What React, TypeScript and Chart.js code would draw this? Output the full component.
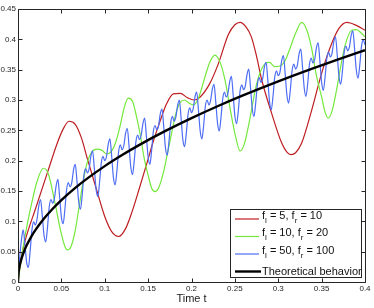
import React, { useEffect, useRef } from 'react';
import { Chart, registerables } from 'chart.js';

Chart.register(...registerables);

const FONT = '"Liberation Sans", Arial, Helvetica, sans-serif';

// Tick labels
const xTicks = [0, 0.05, 0.1, 0.15, 0.2, 0.25, 0.3, 0.35, 0.4];
const yTicks = [0, 0.05, 0.1, 0.15, 0.2, 0.25, 0.3, 0.35, 0.4, 0.45];
const xTitle = 'Time t';

// Legend labels ("_x" = subscript)
const legendLabels = ['f_l = 5, f_r = 10', 'f_l = 10, f_r = 20', 'f_l = 50, f_r = 100', 'Theoretical behavior'];
const seriesColors = ['#BE1E22', '#74E83C', '#4D6DF5', '#000000'];
const seriesWidths = [1.2, 1.2, 1.2, 2.4];

// Red series: f_l = 5, f_r = 10
const redT = [0, 0.003, 0.008, 0.02, 0.035, 0.045, 0.052, 0.0588, 0.066, 0.073, 0.08, 0.09, 0.1, 0.108, 0.116, 0.124, 0.132, 0.14, 0.148, 0.156, 0.164, 0.171, 0.179, 0.187, 0.195, 0.203, 0.21, 0.221, 0.231, 0.2425, 0.25, 0.256, 0.263, 0.269, 0.275, 0.281, 0.2924, 0.304, 0.31, 0.3147, 0.32, 0.327, 0.3385, 0.35, 0.3616, 0.37, 0.379, 0.39, 0.4];
const redY = [0, 0.035, 0.067, 0.12, 0.185, 0.228, 0.252, 0.265, 0.26, 0.238, 0.203, 0.155, 0.108, 0.083, 0.075, 0.088, 0.118, 0.155, 0.193, 0.232, 0.266, 0.293, 0.31, 0.311, 0.304, 0.3, 0.305, 0.327, 0.36, 0.408, 0.424, 0.428, 0.42, 0.404, 0.372, 0.333, 0.278, 0.229, 0.214, 0.21, 0.213, 0.229, 0.283, 0.344, 0.393, 0.418, 0.428, 0.423, 0.415];

// Green series: f_l = 10, f_r = 20
const greenT = [0, 0.003, 0.008, 0.0158, 0.022, 0.0292, 0.035, 0.0427, 0.049, 0.0545, 0.057, 0.061, 0.066, 0.07, 0.075, 0.08, 0.085, 0.091, 0.097, 0.102, 0.108, 0.113, 0.118, 0.122, 0.127, 0.132, 0.137, 0.1406, 0.146, 0.15, 0.154, 0.158, 0.162, 0.1675, 0.172, 0.177, 0.182, 0.187, 0.192, 0.197, 0.202, 0.208, 0.2155, 0.221, 0.227, 0.233, 0.2386, 0.244, 0.25, 0.256, 0.261, 0.2655, 0.27, 0.274, 0.279, 0.285, 0.29, 0.296, 0.302, 0.308, 0.3135, 0.32, 0.327, 0.333, 0.3385, 0.344, 0.35, 0.354, 0.3577, 0.362, 0.367, 0.372, 0.377, 0.3847, 0.39, 0.396, 0.4];
const greenY = [0, 0.03, 0.075, 0.13, 0.166, 0.1875, 0.178, 0.13, 0.085, 0.057, 0.053, 0.058, 0.085, 0.12, 0.165, 0.198, 0.214, 0.219, 0.217, 0.211, 0.216, 0.232, 0.259, 0.285, 0.303, 0.298, 0.27, 0.245, 0.2, 0.176, 0.155, 0.149, 0.155, 0.18, 0.21, 0.245, 0.278, 0.296, 0.3, 0.295, 0.292, 0.303, 0.338, 0.362, 0.374, 0.362, 0.333, 0.29, 0.245, 0.216, 0.228, 0.256, 0.29, 0.32, 0.345, 0.36, 0.362, 0.355, 0.356, 0.365, 0.385, 0.41, 0.428, 0.415, 0.385, 0.34, 0.305, 0.28, 0.27, 0.282, 0.315, 0.355, 0.39, 0.415, 0.416, 0.41, 0.404];

// Blue series: f_l = 50, f_r = 100 (sampled every 0.002 in t)
const blueStep = 0.002;
const blueY = [
  0, 0.041, 0.070, 0.086, 0.062, 0.032, 0.024, 0.051, 0.085, 0.099,
  0.094, 0.104, 0.126, 0.136, 0.109, 0.077, 0.066, 0.090, 0.124, 0.136,
  0.130, 0.138, 0.159, 0.169, 0.140, 0.107, 0.096, 0.119, 0.152, 0.164,
  0.157, 0.164, 0.185, 0.194, 0.166, 0.132, 0.120, 0.143, 0.176, 0.187,
  0.180, 0.187, 0.207, 0.216, 0.187, 0.153, 0.141, 0.164, 0.196, 0.207,
  0.200, 0.207, 0.227, 0.236, 0.207, 0.172, 0.160, 0.183, 0.215, 0.226,
  0.218, 0.225, 0.245, 0.253, 0.224, 0.190, 0.177, 0.200, 0.232, 0.242,
  0.235, 0.242, 0.261, 0.270, 0.240, 0.206, 0.194, 0.216, 0.248, 0.258,
  0.251, 0.257, 0.277, 0.285, 0.256, 0.221, 0.209, 0.231, 0.262, 0.273,
  0.265, 0.272, 0.291, 0.300, 0.270, 0.235, 0.223, 0.245, 0.276, 0.287,
  0.279, 0.286, 0.305, 0.313, 0.284, 0.249, 0.236, 0.258, 0.290, 0.300,
  0.292, 0.299, 0.318, 0.326, 0.296, 0.262, 0.249, 0.271, 0.302, 0.313,
  0.305, 0.311, 0.330, 0.339, 0.309, 0.274, 0.261, 0.283, 0.315, 0.325,
  0.317, 0.323, 0.342, 0.351, 0.321, 0.286, 0.273, 0.295, 0.326, 0.337,
  0.329, 0.335, 0.354, 0.362, 0.332, 0.297, 0.284, 0.307, 0.338, 0.348,
  0.340, 0.346, 0.365, 0.373, 0.343, 0.308, 0.295, 0.318, 0.349, 0.359,
  0.351, 0.357, 0.376, 0.384, 0.354, 0.319, 0.306, 0.328, 0.359, 0.369,
  0.361, 0.367, 0.386, 0.394, 0.364, 0.329, 0.316, 0.338, 0.369, 0.379,
  0.371, 0.377, 0.396, 0.404, 0.374, 0.339, 0.326, 0.348, 0.379, 0.389,
  0.381, 0.387, 0.406, 0.414, 0.384, 0.349, 0.336, 0.358, 0.389, 0.399,
  0.391,
];

// Black series: theoretical behavior
const blackT = [0, 0.0005, 0.001, 0.002, 0.004, 0.007, 0.01, 0.015, 0.02, 0.03, 0.04, 0.05, 0.065, 0.08, 0.1, 0.12, 0.14, 0.17, 0.2, 0.23, 0.26, 0.3, 0.34, 0.37, 0.4];
const blackY = [0, 0.0135, 0.0191, 0.027, 0.0382, 0.0505, 0.0604, 0.074, 0.0854, 0.1046, 0.1208, 0.1351, 0.154, 0.1708, 0.191, 0.2092, 0.226, 0.249, 0.2701, 0.2897, 0.308, 0.3308, 0.3522, 0.3674, 0.382];

const fmt = (v: number) => String(+Number(v).toFixed(2));

const framePlugin = {
  id: 'frameTicks',
  afterDatasetsDraw(chart: any) {
    const { ctx, chartArea: a, scales } = chart;
    const L = Math.round(a.left) + 0.5;
    const R = Math.round(a.right) + 0.5;
    const T = Math.round(a.top) + 0.5;
    const B = Math.round(a.bottom) + 0.5;
    ctx.save();
    ctx.strokeStyle = '#262626';
    ctx.lineWidth = 1;
    ctx.beginPath();
    ctx.rect(L, T, R - L, B - T);
    const len = 4;
    xTicks.forEach((v) => {
      const px = Math.round(scales.x.getPixelForValue(v)) + 0.5;
      ctx.moveTo(px, B);
      ctx.lineTo(px, B - len);
      ctx.moveTo(px, T);
      ctx.lineTo(px, T + len);
    });
    yTicks.forEach((v) => {
      const py = Math.round(scales.y.getPixelForValue(v)) + 0.5;
      ctx.moveTo(L, py);
      ctx.lineTo(L + len, py);
      ctx.moveTo(R, py);
      ctx.lineTo(R - len, py);
    });
    ctx.stroke();
    ctx.restore();
  },
};

const legendPlugin = {
  id: 'customLegend',
  afterDraw(chart: any) {
    const { ctx } = chart;
    const bx = 230.5, by = 209.5, bw = 131, bh = 68;
    ctx.save();
    ctx.fillStyle = '#ffffff';
    ctx.fillRect(bx, by, bw, bh);
    ctx.strokeStyle = '#262626';
    ctx.lineWidth = 1;
    ctx.strokeRect(bx, by, bw, bh);
    legendLabels.forEach((label, i) => {
      const y = 219 + i * 17.5;
      ctx.strokeStyle = seriesColors[i];
      ctx.lineWidth = seriesWidths[i];
      ctx.beginPath();
      ctx.moveTo(235, y);
      ctx.lineTo(i === 3 ? 261 : 259, y);
      ctx.stroke();
      ctx.fillStyle = '#111111';
      ctx.textAlign = 'left';
      ctx.textBaseline = 'middle';
      let x = 262;
      const hasSub = label.indexOf('_') >= 0;
      const parts = label.split(/(_\w)/).filter((p) => p.length > 0);
      parts.forEach((p) => {
        if (p.startsWith('_')) {
          ctx.font = `8px ${FONT}`;
          ctx.fillText(p.slice(1), x, y + 1.5);
          x += ctx.measureText(p.slice(1)).width;
        } else {
          ctx.font = `11px ${FONT}`;
          ctx.fillText(p, x, hasSub ? y - 3.5 : y);
          x += ctx.measureText(p).width;
        }
      });
    });
    ctx.restore();
  },
};

export default function App() {
  const ref = useRef<HTMLCanvasElement>(null);

  useEffect(() => {
    const canvas = ref.current;
    if (!canvas) return;
    const pts = (t: number[], y: number[]) => t.map((v, i) => ({ x: v, y: y[i] }));
    const bluePts = blueY.map((v, i) => ({ x: +(i * blueStep).toFixed(3), y: v }));
    const chart = new Chart(canvas, {
      type: 'line',
      data: {
        datasets: [
          { label: legendLabels[0], data: pts(redT, redY), borderColor: seriesColors[0], borderWidth: seriesWidths[0], pointRadius: 0, cubicInterpolationMode: 'monotone', order: 3, fill: false },
          { label: legendLabels[1], data: pts(greenT, greenY), borderColor: seriesColors[1], borderWidth: seriesWidths[1], pointRadius: 0, cubicInterpolationMode: 'monotone', order: 2, fill: false },
          { label: legendLabels[2], data: bluePts, borderColor: seriesColors[2], borderWidth: seriesWidths[2], pointRadius: 0, cubicInterpolationMode: 'monotone', order: 1, fill: false },
          { label: legendLabels[3], data: pts(blackT, blackY), borderColor: seriesColors[3], borderWidth: seriesWidths[3], pointRadius: 0, cubicInterpolationMode: 'monotone', order: 0, fill: false },
        ],
      } as any,
      options: {
        responsive: false,
        maintainAspectRatio: false,
        devicePixelRatio: 1,
        animation: false,
        events: [],
        layout: { padding: { top: 9, right: 9, left: 0, bottom: 0 } },
        plugins: { legend: { display: false }, tooltip: { enabled: false }, title: { display: false } },
        scales: {
          x: {
            type: 'linear',
            min: 0,
            max: 0.4,
            afterBuildTicks: (s: any) => { s.ticks = xTicks.map((v) => ({ value: v })); },
            afterFit: (s: any) => { s.height = 26; },
            grid: { display: false, drawTicks: false },
            border: { display: false },
            ticks: { font: { family: FONT, size: 8 }, color: '#262626', padding: 2, maxRotation: 0, autoSkip: false, callback: (v: any) => fmt(v) },
            title: { display: true, text: xTitle, font: { family: FONT, size: 11 }, color: '#1a1a1a', padding: { top: 0, bottom: 2 } },
          },
          y: {
            type: 'linear',
            min: 0,
            max: 0.45,
            afterBuildTicks: (s: any) => { s.ticks = yTicks.map((v) => ({ value: v })); },
            afterFit: (s: any) => { s.width = 18; },
            grid: { display: false, drawTicks: false },
            border: { display: false },
            ticks: { font: { family: FONT, size: 8 }, color: '#262626', padding: 2, autoSkip: false, callback: (v: any) => fmt(v) },
          },
        },
      } as any,
      plugins: [framePlugin, legendPlugin],
    });
    return () => chart.destroy();
  }, []);

  return (
    <div style={{ position: 'fixed', left: 0, top: 0, width: 374, height: 308, background: '#ffffff' }}>
      <canvas ref={ref} width={374} height={308} style={{ display: 'block', width: 374, height: 308 }} />
    </div>
  );
}
